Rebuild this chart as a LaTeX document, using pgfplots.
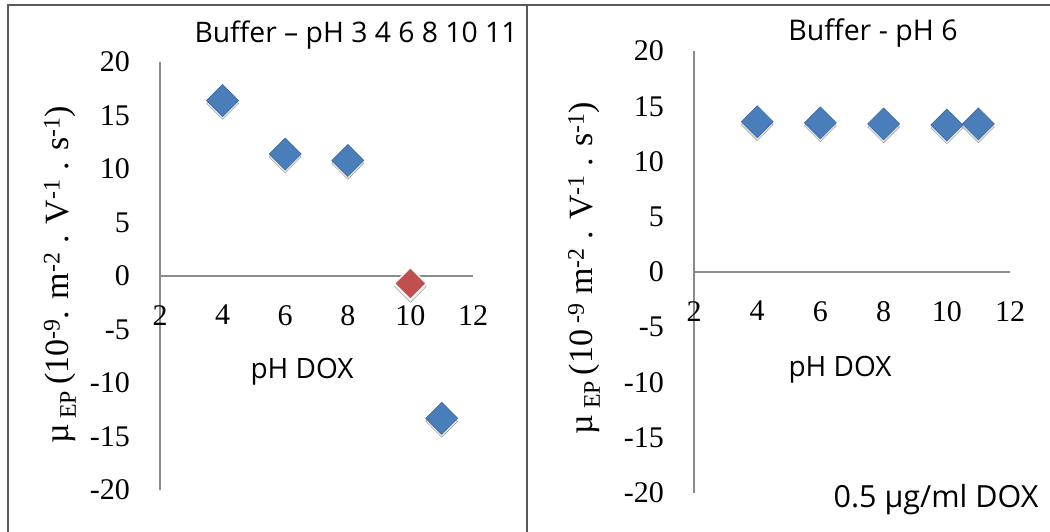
\documentclass[border=0pt]{standalone}
\usepackage{fontspec}
\setmainfont{Liberation Serif}
\newfontfamily\osans{Open Sans}
\usepackage{pgfplots}
\pgfplotsset{compat=1.18}
\definecolor{bluem}{HTML}{4A7EBB}
\definecolor{bluedark}{HTML}{3A68A0}
\definecolor{redm}{HTML}{C0504D}
\definecolor{axgray}{HTML}{8C8C8C}
\definecolor{bordergray}{HTML}{5A5A5A}

\pgfplotsset{
  panel/.style={
    scale only axis, clip=false,
    xmin=2, xmax=12, ymin=-20, ymax=20,
    axis x line=middle, axis y line=left,
    axis line style={-, axgray, line width=1.3pt},
    xtick={2,4,...,12}, ytick={-20,-15,...,20},
    major tick length=0pt,
    hide obscured x ticks=false, hide obscured y ticks=false,
    /pgf/number format/assume math mode=true,
    tick label style={font=\fontsize{30}{30}\selectfont, inner sep=0pt},
    xticklabel style={anchor=north, yshift=-29pt},
    yticklabel style={anchor=east, xshift=-30pt},
    anchor=south west,
  },
  shadowmk/.style={only marks, mark=square*, mark size=11.3pt,
    mark options={yshift=-3pt, rotate=45, fill=black!30, draw=none, opacity=0.35}},
  bluemk/.style={only marks, mark=square*, mark size=11.3pt,
    mark options={rotate=45, fill=bluem, draw=bluedark, line width=0.6pt}},
  redmk/.style={only marks, mark=square*, mark size=11.3pt,
    mark options={rotate=45, fill=redm, draw=white, line width=1.5pt}},
}

\begin{document}
\begin{tikzpicture}[x=1pt,y=1pt]
\path[use as bounding box] (0,0) rectangle (1050,532);
\draw[bordergray, line width=2pt] (8,0) -- (8,527) -- (1050,527);
\draw[bordergray, line width=2pt] (527,0) -- (527,527);

% Left panel
\begin{axis}[panel, at={(160pt,42pt)}, width=313pt, height=428pt]
\addplot[shadowmk] coordinates {(4,16.4) (6,11.4) (8,10.8) (10,-0.7) (11,-13.3)};
\addplot[bluemk] coordinates {(4,16.4) (6,11.4) (8,10.8) (11,-13.3)};
\addplot[redmk] coordinates {(10,-0.7)};
\end{axis}

% Right panel
\begin{axis}[panel, at={(694pt,39pt)}, width=316pt, height=442pt]
\addplot[shadowmk] coordinates {(4,13.6) (6,13.5) (8,13.4) (10,13.3) (11,13.4)};
\addplot[bluemk] coordinates {(4,13.6) (6,13.5) (8,13.4) (10,13.3) (11,13.4)};
\end{axis}

% Titles and labels
\node[font=\osans\fontsize{28.3}{28}\selectfont] at (356,497) {Buffer – pH 3 4 6 8 10 11};
\node[font=\osans\fontsize{28.5}{28}\selectfont] at (873,499) {Buffer - pH 6};
\node[font=\osans\fontsize{28}{28}\selectfont] at (302,160) {pH DOX};
\node[font=\osans\fontsize{28}{28}\selectfont] at (840,162) {pH DOX};
\node[font=\osans\fontsize{30.5}{30}\selectfont] at (936,32) {0.5 µg/ml DOX};

\node[rotate=90, font=\fontsize{34}{34}\selectfont] at (60,257)
  {µ\,\textsubscript{EP}\,(10\textsuperscript{-9}. m\textsuperscript{-2} . V\textsuperscript{-1} . s\textsuperscript{-1})};
\node[rotate=90, font=\fontsize{34}{34}\selectfont] at (584,264)
  {µ\,\textsubscript{EP}\,(10\textsuperscript{ -9} m\textsuperscript{-2} . V\textsuperscript{-1} . s\textsuperscript{-1})};
\end{tikzpicture}
\end{document}
